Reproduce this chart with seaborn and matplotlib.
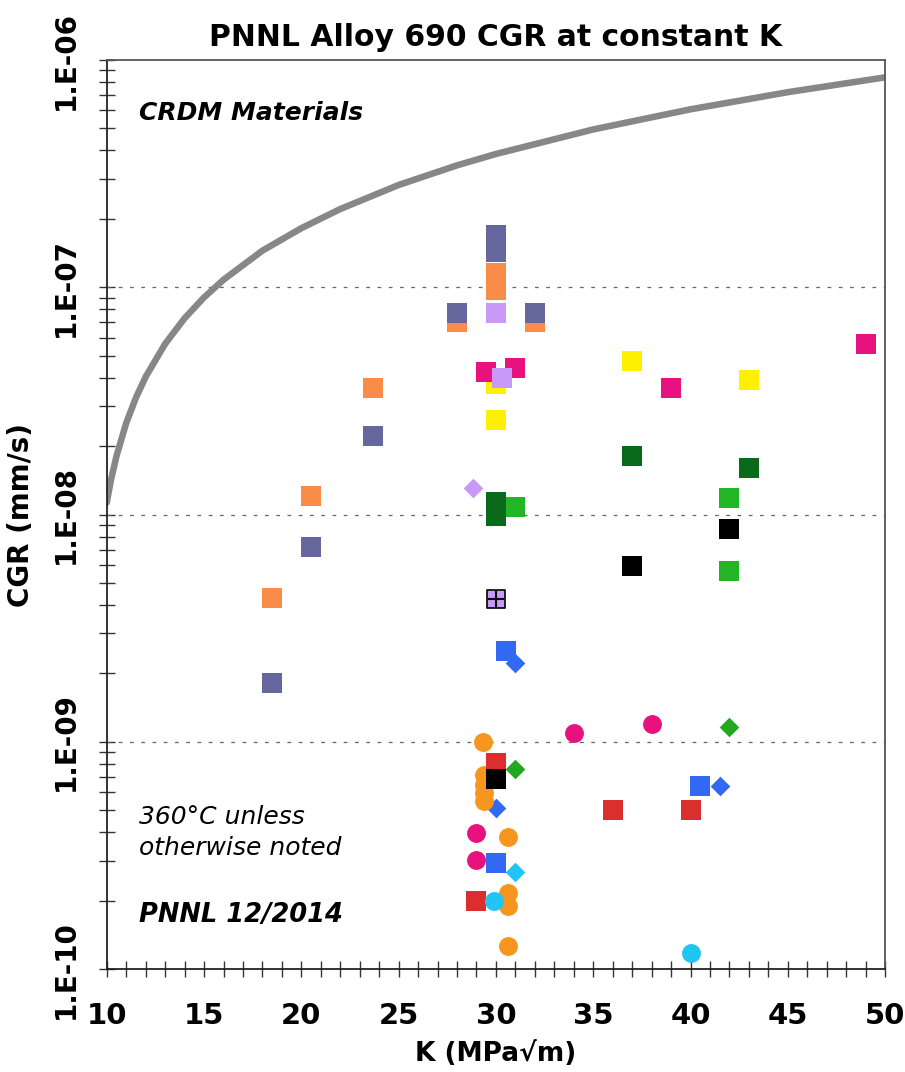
import numpy as np
import pandas as pd
import matplotlib
matplotlib.use("Agg")
import matplotlib.pyplot as plt
from matplotlib.ticker import FixedLocator, MultipleLocator, NullFormatter, LogLocator
import seaborn as sns

# ---------------- data ----------------
# model curve (grey)
curve_k = [10, 10.2, 10.5, 11, 11.5, 12, 13, 14, 15, 16, 18, 20, 22, 25, 28, 30, 35, 40, 45, 50]
curve_cgr = [1.13e-8, 1.40e-8, 1.81e-8, 2.53e-8, 3.27e-8, 4.04e-8, 5.64e-8, 7.31e-8, 9.03e-8,
             1.08e-7, 1.45e-7, 1.82e-7, 2.21e-7, 2.82e-7, 3.44e-7, 3.86e-7, 4.95e-7, 6.07e-7,
             7.22e-7, 8.39e-7]

orange_sq_k = [30, 30, 28, 32, 23.7, 20.5, 18.5]
orange_sq_cgr = [1.16e-7, 9.7e-8, 7.0e-8, 7.0e-8, 3.6e-8, 1.21e-8, 4.3e-9]

slate_sq_k = [30, 30, 28, 32, 23.7, 20.5, 18.5]
slate_sq_cgr = [1.70e-7, 1.43e-7, 7.7e-8, 7.7e-8, 2.22e-8, 7.2e-9, 1.82e-9]

yellow_sq_k = [30, 30, 37, 43]
yellow_sq_cgr = [3.75e-8, 2.61e-8, 4.74e-8, 3.91e-8]

lavender_sq_k = [30, 30.3]
lavender_sq_cgr = [7.7e-8, 3.99e-8]
lavender_plus_k = [30]
lavender_plus_cgr = [4.25e-9]
lavender_dia_k = [28.8]
lavender_dia_cgr = [1.31e-8]

magenta_sq_k = [29.5, 31, 39, 49]
magenta_sq_cgr = [4.24e-8, 4.41e-8, 3.6e-8, 5.63e-8]

dkgreen_sq_k = [30, 30, 37, 43]
dkgreen_sq_cgr = [1.135e-8, 9.85e-9, 1.81e-8, 1.60e-8]

green_sq_k = [31, 42, 42]
green_sq_cgr = [1.08e-8, 1.18e-8, 5.64e-9]
green_dia_k = [31, 42]
green_dia_cgr = [7.59e-10, 1.16e-9]

black_sq_k = [42, 37]
black_sq_cgr = [8.63e-9, 5.93e-9]

blue_sq_k = [30.5, 30, 40.5]
blue_sq_cgr = [2.51e-9, 2.93e-10, 6.39e-10]
blue_dia_k = [31, 30, 41.5]
blue_dia_cgr = [2.22e-9, 5.11e-10, 6.39e-10]

orange_ci_k = [29.35, 29.4, 29.4, 29.4, 29.4, 30.6, 30.6, 30.6, 30.6]
orange_ci_cgr = [9.97e-10, 7.14e-10, 6.45e-10, 5.95e-10, 5.49e-10, 3.81e-10, 2.16e-10, 1.89e-10, 1.26e-10]

red_sq_k = [30, 29, 36, 40]
red_sq_cgr = [8.06e-10, 1.99e-10, 5.01e-10, 5.01e-10]

black2_sq_k = [30]
black2_sq_cgr = [6.86e-10]

magenta_ci_k = [34.0, 38.0, 29.0, 29.0]
magenta_ci_cgr = [1.09e-9, 1.20e-9, 3.97e-10, 3.02e-10]

cyan_dia_k = [31]
cyan_dia_cgr = [2.67e-10]
cyan_ci_k = [29.9, 40]
cyan_ci_cgr = [1.99e-10, 1.18e-10]

x_ticks = [10, 15, 20, 25, 30, 35, 40, 45, 50]
y_ticks = [1e-10, 1e-9, 1e-8, 1e-7, 1e-6]
y_tick_labels = ["1.E-10", "1.E-09", "1.E-08", "1.E-07", "1.E-06"]

# ---------------- styling ----------------
colors = {
    "orange_sq": "#F98C48", "slate_sq": "#66679D", "yellow_sq": "#FFF000",
    "lavender_sq": "#C899F8", "lavender_dia": "#C899F8", "magenta_sq": "#E8127E",
    "dkgreen_sq": "#0A6A1C", "green_sq": "#22B525", "green_dia": "#22A81E",
    "black_sq": "#000000", "blue_sq": "#3268F4", "blue_dia": "#3268F4",
    "orange_ci": "#F7961E", "red_sq": "#DB2F2F", "black2_sq": "#000000",
    "magenta_ci": "#E8127E", "cyan_dia": "#1FC6F3", "cyan_ci": "#1FC6F3",
}
series = [
    ("orange_sq", orange_sq_k, orange_sq_cgr, "s"),
    ("slate_sq", slate_sq_k, slate_sq_cgr, "s"),
    ("yellow_sq", yellow_sq_k, yellow_sq_cgr, "s"),
    ("magenta_sq", magenta_sq_k, magenta_sq_cgr, "s"),
    ("lavender_sq", lavender_sq_k, lavender_sq_cgr, "s"),
    ("lavender_dia", lavender_dia_k, lavender_dia_cgr, "D"),
    ("green_sq", green_sq_k, green_sq_cgr, "s"),
    ("dkgreen_sq", dkgreen_sq_k, dkgreen_sq_cgr, "s"),
    ("black_sq", black_sq_k, black_sq_cgr, "s"),
    ("blue_sq", blue_sq_k, blue_sq_cgr, "s"),
    ("blue_dia", blue_dia_k, blue_dia_cgr, "D"),
    ("orange_ci", orange_ci_k, orange_ci_cgr, "o"),
    ("red_sq", red_sq_k, red_sq_cgr, "s"),
    ("black2_sq", black2_sq_k, black2_sq_cgr, "s"),
    ("green_dia", green_dia_k, green_dia_cgr, "D"),
    ("magenta_ci", magenta_ci_k, magenta_ci_cgr, "o"),
    ("cyan_dia", cyan_dia_k, cyan_dia_cgr, "D"),
    ("cyan_ci", cyan_ci_k, cyan_ci_cgr, "o"),
]
sizes = {"s": 200, "o": 185, "D": 100}

rows = []
for name, ks, cs, mk in series:
    for k, c in zip(ks, cs):
        rows.append({"K": k, "CGR": c, "series": name, "shape": mk})
df = pd.DataFrame(rows)

sns.set_style("white")
plt.rcParams["font.family"] = ["DejaVu Sans"]
plt.rcParams["text.color"] = "black"
plt.rcParams["axes.labelcolor"] = "black"
plt.rcParams["xtick.color"] = "black"
plt.rcParams["ytick.color"] = "black"

fig = plt.figure(figsize=(9.05, 10.72), dpi=100)
ax = fig.add_axes([0.118, 0.096, 0.860, 0.848])

sns.lineplot(x=curve_k, y=curve_cgr, ax=ax, color="#878787", linewidth=4.7,
             sort=False, estimator=None)

for name, ks, cs, mk in series:
    sub = df[df["series"] == name]
    sns.scatterplot(data=sub, x="K", y="CGR", ax=ax, color=colors[name], marker=mk,
                    s=sizes[mk], linewidth=0, legend=False, zorder=3)

# lavender square with black plus
sns.scatterplot(x=lavender_plus_k, y=lavender_plus_cgr, ax=ax, color="#C899F8", marker="s",
                s=170, edgecolor="black", linewidth=1.2, legend=False, zorder=4)
sns.scatterplot(x=lavender_plus_k, y=lavender_plus_cgr, ax=ax, color="black", marker="+",
                s=140, linewidth=1.5, legend=False, zorder=5)

ax.set_yscale("log")
ax.set_xlim(10, 50)
ax.set_ylim(1e-10, 1e-6)

ax.xaxis.set_major_locator(FixedLocator(x_ticks))
ax.xaxis.set_minor_locator(MultipleLocator(1))
ax.set_xticklabels([str(t) for t in x_ticks], fontsize=21, fontweight="bold")

ax.yaxis.set_major_locator(FixedLocator(y_ticks))
ax.yaxis.set_minor_locator(LogLocator(base=10, subs=np.arange(2, 10)))
ax.yaxis.set_minor_formatter(NullFormatter())
ax.set_yticklabels(y_tick_labels, fontsize=20, fontweight="bold", rotation=90, va="center")

ax.tick_params(axis="both", which="both", direction="inout", length=11, width=1.0,
               color="#333333", bottom=True, left=True, top=False, right=False)
ax.tick_params(axis="x", which="major", pad=18)
ax.tick_params(axis="y", which="major", pad=14)

for sp in ax.spines.values():
    sp.set_visible(True)
    sp.set_color("#555555")
    sp.set_linewidth(1.3)
ax.spines["left"].set_color("#222222")
ax.spines["bottom"].set_color("#222222")

for yv in [1e-9, 1e-8, 1e-7]:
    ax.axhline(yv, color="#666666", linestyle=(0, (3, 6)), linewidth=0.9, zorder=1)

ax.set_title("PNNL Alloy 690 CGR at constant K", fontsize=21.5, fontweight="bold", pad=10)
ax.set_xlabel("K (MPa√m)", fontsize=19, fontweight="bold", labelpad=8)
ax.set_ylabel("CGR (mm/s)", fontsize=20, fontweight="bold")
ax.yaxis.set_label_coords(-0.092, 0.5)

ax.text(0.042, 0.942, "CRDM Materials", transform=ax.transAxes, fontsize=18,
        fontweight="bold", fontstyle="italic", va="center", ha="left")
ax.text(0.042, 0.15, "360°C unless\notherwise noted", transform=ax.transAxes, fontsize=18,
        fontstyle="italic", va="center", ha="left", linespacing=1.35)
ax.text(0.042, 0.059, "PNNL 12/2014", transform=ax.transAxes, fontsize=18.5,
        fontweight="bold", fontstyle="italic", va="center", ha="left")

fig.savefig("out.png", dpi=100, facecolor="white")
